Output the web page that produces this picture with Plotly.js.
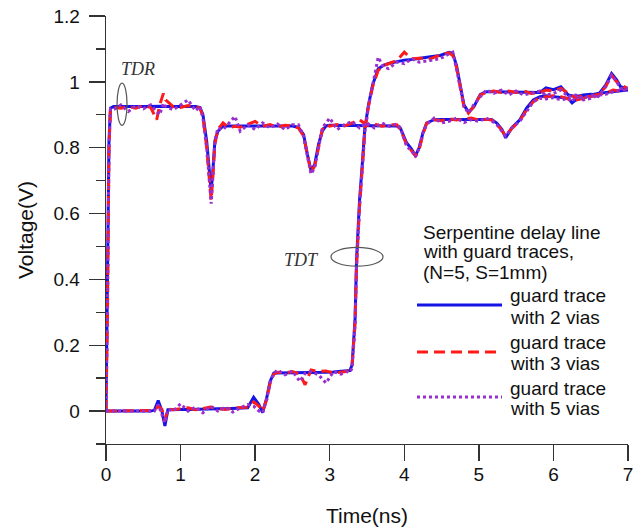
<!DOCTYPE html>
<html>
<head>
<meta charset="utf-8">
<script src="https://cdn.plot.ly/plotly-3.0.1.min.js"></script>
<style>html,body{margin:0;padding:0;background:#fff;}#chart{width:641px;height:527px;}</style>
</head>
<body>
<div id="chart"></div>
<script>
// ---- Data ----
var tdrTime = [
  0, 0.02, 0.04, 0.06, 0.1, 0.2, 0.3, 0.4, 0.5, 0.6,
  0.68, 0.72, 0.77, 0.8, 0.9, 1.0, 1.1, 1.2, 1.26, 1.3,
  1.35, 1.39, 1.41, 1.43, 1.46, 1.5, 1.57, 1.65, 1.73, 1.8,
  1.9, 2.0, 2.1, 2.2, 2.3, 2.4, 2.5, 2.58, 2.65, 2.7,
  2.75, 2.8, 2.85, 2.9, 2.95, 3.0, 3.1, 3.2, 3.3, 3.4,
  3.5, 3.6, 3.7, 3.8, 3.9, 3.95, 4.03, 4.1, 4.15, 4.2,
  4.25, 4.3, 4.4, 4.5, 4.6, 4.7, 4.8, 4.9, 5.0, 5.1,
  5.17, 5.24, 5.31, 5.36, 5.44, 5.55, 5.64, 5.73, 5.82, 5.9,
  6.0, 6.1, 6.2, 6.25, 6.3, 6.4, 6.5, 6.6, 6.7, 6.8,
  6.9, 7.0
];
var tdr2vias = [
  0, 0.35, 0.82, 0.92, 0.925, 0.925, 0.924, 0.925, 0.925, 0.926,
  0.925, 0.925, 0.926, 0.925, 0.925, 0.926, 0.925, 0.925, 0.922, 0.90,
  0.82, 0.71, 0.67, 0.72, 0.82, 0.85, 0.866, 0.866, 0.866, 0.865,
  0.866, 0.866, 0.865, 0.866, 0.866, 0.866, 0.866, 0.862, 0.84, 0.78,
  0.73, 0.75, 0.81, 0.85, 0.866, 0.868, 0.868, 0.868, 0.868, 0.868,
  0.868, 0.868, 0.868, 0.868, 0.866, 0.858, 0.815, 0.795, 0.775, 0.80,
  0.845, 0.875, 0.885, 0.886, 0.886, 0.886, 0.886, 0.886, 0.886, 0.886,
  0.886, 0.875, 0.855, 0.83, 0.86, 0.885, 0.92, 0.945, 0.955, 0.958,
  0.955, 0.952, 0.95, 0.936, 0.945, 0.952, 0.96, 0.965, 0.968, 0.97,
  0.973, 0.975
];
var tdr3vias = [
  0, 0.3, 0.8, 0.915, 0.922, 0.92, 0.925, 0.92, 0.928, 0.922,
  0.885, 0.93, 0.965, 0.945, 0.925, 0.922, 0.928, 0.925, 0.92, 0.895,
  0.80, 0.69, 0.64, 0.70, 0.81, 0.855, 0.875, 0.86, 0.865, 0.862,
  0.87, 0.88, 0.865, 0.87, 0.862, 0.868, 0.866, 0.86, 0.835, 0.775,
  0.725, 0.745, 0.805, 0.855, 0.87, 0.865, 0.87, 0.866, 0.875, 0.885,
  0.868, 0.872, 0.865, 0.87, 0.87, 0.855, 0.81, 0.79, 0.775, 0.795,
  0.84, 0.875, 0.885, 0.882, 0.888, 0.884, 0.886, 0.89, 0.884, 0.886,
  0.884, 0.872, 0.852, 0.835, 0.858, 0.882, 0.915, 0.94, 0.952, 0.955,
  0.958, 0.955, 0.948, 0.94, 0.945, 0.95, 0.958, 0.962, 0.966, 0.975,
  0.972, 0.98
];
var tdr5vias = [
  0, 0.3, 0.8, 0.918, 0.915, 0.93, 0.91, 0.928, 0.918, 0.93,
  0.91, 0.90, 0.935, 0.925, 0.915, 0.93, 0.945, 0.912, 0.925, 0.89,
  0.80, 0.69, 0.63, 0.70, 0.82, 0.86, 0.855, 0.875, 0.895, 0.85,
  0.87, 0.855, 0.875, 0.86, 0.872, 0.855, 0.87, 0.87, 0.835, 0.775,
  0.72, 0.74, 0.80, 0.86, 0.875, 0.89, 0.855, 0.87, 0.88, 0.86,
  0.875, 0.86, 0.875, 0.865, 0.872, 0.86, 0.805, 0.79, 0.772, 0.80,
  0.845, 0.87, 0.89, 0.875, 0.88, 0.89, 0.876, 0.885, 0.88, 0.89,
  0.882, 0.87, 0.85, 0.835, 0.86, 0.88, 0.91, 0.94, 0.95, 0.948,
  0.952, 0.945, 0.95, 0.94, 0.955, 0.945, 0.95, 0.96, 0.962, 0.97,
  0.975, 0.975
];

var tdtTime = [
  0, 0.3, 0.6, 0.65, 0.7, 0.75, 0.79, 0.83, 0.9, 1.0,
  1.1, 1.2, 1.3, 1.4, 1.5, 1.6, 1.7, 1.8, 1.9, 1.98,
  2.05, 2.1, 2.155, 2.2, 2.25, 2.3, 2.4, 2.5, 2.6, 2.67,
  2.75, 2.85, 2.95, 3.05, 3.15, 3.22, 3.27, 3.3, 3.34, 3.36,
  3.4, 3.44, 3.47, 3.52, 3.575, 3.65, 3.72, 3.79, 3.9, 4.0,
  4.1, 4.2, 4.35, 4.48, 4.6, 4.65, 4.7, 4.75, 4.8, 4.86,
  4.93, 5.02, 5.1, 5.2, 5.3, 5.4, 5.5, 5.6, 5.7, 5.82,
  5.9, 6.0, 6.1, 6.2, 6.3, 6.4, 6.5, 6.6, 6.7, 6.78,
  6.85, 6.9, 7.0
];
var tdt2vias = [
  0, 0, 0, 0.003, 0.032, 0.0, -0.045, 0.004, 0.005, 0.005,
  0.005, 0.006, 0.006, 0.006, 0.007, 0.007, 0.008, 0.008, 0.01, 0.042,
  0.02, -0.005, 0.04, 0.09, 0.115, 0.116, 0.116, 0.116, 0.117, 0.117,
  0.117, 0.118, 0.118, 0.119, 0.12, 0.121, 0.123, 0.14, 0.28, 0.46,
  0.64, 0.76, 0.857, 0.93, 0.99, 1.04, 1.05, 1.056, 1.062, 1.066,
  1.068, 1.072, 1.076, 1.08, 1.09, 1.086, 1.05, 0.99, 0.93, 0.908,
  0.923, 0.962, 0.97, 0.97, 0.97, 0.97, 0.97, 0.97, 0.97, 0.968,
  0.982, 0.976, 0.985, 0.96, 0.955, 0.96, 0.962, 0.96, 0.99, 1.025,
  1.005, 0.985, 0.978
];
var tdt3vias = [
  0, 0, 0, 0.002, 0.015, 0.005, -0.03, 0.006, 0.004, 0.006,
  0.01, 0.004, 0.008, 0.012, 0.008, 0.005, 0.009, 0.01, 0.012, 0.028,
  0.015, 0.0, 0.035, 0.085, 0.112, 0.118, 0.116, 0.12, 0.112, 0.08,
  0.125, 0.12, 0.122, 0.115, 0.118, 0.12, 0.125, 0.14, 0.27, 0.44,
  0.62, 0.75, 0.85, 0.925, 0.985, 1.035, 1.05, 1.055, 1.065, 1.09,
  1.07, 1.072, 1.07, 1.082, 1.088, 1.08, 1.045, 0.985, 0.925, 0.905,
  0.925, 0.96, 0.968, 0.972, 0.968, 0.972, 0.968, 0.972, 0.965, 0.968,
  0.975, 0.972, 0.98, 0.965, 0.952, 0.958, 0.955, 0.96, 0.985, 1.02,
  1.0, 0.99, 0.98
];
var tdt5vias = [
  0, 0, 0, 0.0, 0.02, -0.01, -0.035, 0.006, 0.0, 0.022,
  0.0, 0.012, -0.005, 0.015, 0.0, 0.012, -0.003, 0.01, 0.02, 0.015,
  0.0, -0.005, 0.035, 0.085, 0.115, 0.125, 0.11, 0.122, 0.09, 0.115,
  0.12, 0.11, 0.085, 0.12, 0.112, 0.12, 0.118, 0.13, 0.26, 0.44,
  0.62, 0.745, 0.845, 0.925, 0.985, 1.075, 1.045, 1.04, 1.06, 1.055,
  1.07, 1.06, 1.065, 1.07, 1.085, 1.09, 1.04, 0.98, 0.925, 0.905,
  0.93, 0.955, 0.975, 0.965, 0.975, 0.96, 0.972, 0.96, 0.965, 0.972,
  0.96, 0.965, 0.975, 0.955, 0.96, 0.95, 0.96, 0.955, 0.985, 1.02,
  1.0, 0.98, 0.98
];

var seriesNames = ["guard trace with 2 vias", "guard trace with 3 vias", "guard trace with 5 vias"];
var legendTitleLines = ["Serpentine delay line", "with guard traces,", "(N=5, S=1mm)"];
var legendItemLines = [["guard trace", "with 2 vias"], ["guard trace", "with 3 vias"], ["guard trace", "with 5 vias"]];
var xTicks = [0, 1, 2, 3, 4, 5, 6, 7];
var yTicks = [0, 0.2, 0.4, 0.6, 0.8, 1.0, 1.2];
var yTickText = ["0", "0.2", "0.4", "0.6", "0.8", "1", "1.2"];
var yMinorTicks = [-0.1, 0.1, 0.3, 0.5, 0.7, 0.9, 1.1];

// ---- Styles ----
var FONT = "Liberation Sans, Arial, sans-serif";
var styles = [
  {color: "#1414e6", width: 3, dash: "solid"},
  {color: "#ff1a1a", width: 3, dash: "11px,6px"},
  {color: "#9a2fd0", width: 3, dash: "3px,3px"}
];
var tdrSets = [tdr2vias, tdr3vias, tdr5vias];
var tdtSets = [tdt2vias, tdt3vias, tdt5vias];

var traces = [];
for (var i = 0; i < 3; i++) {
  traces.push({x: tdrTime, y: tdrSets[i], type: "scatter", mode: "lines", name: seriesNames[i],
    legendgroup: "s" + i, showlegend: false, line: styles[i], hoverinfo: "x+y"});
  traces.push({x: tdtTime, y: tdtSets[i], type: "scatter", mode: "lines", name: seriesNames[i],
    legendgroup: "s" + i, showlegend: false, line: styles[i], hoverinfo: "x+y"});
}

// ---- Manual legend (pixel layout converted to paper coords) ----
var M = {l: 106, r: 13, t: 16, b: 83};
var W = 641, H = 527;
var pw = W - M.l - M.r, ph = H - M.t - M.b;
function px(x) { return (x - M.l) / pw; }
function py(y) { return (H - M.b - y) / ph; }

var annotations = [];
var shapes = [];
var titleY = [232, 252, 272];
legendTitleLines.forEach(function (t, k) {
  annotations.push({xref: "paper", yref: "paper", x: px(421), y: py(titleY[k]), text: t, showarrow: false,
    xanchor: "left", yanchor: "middle", font: {family: FONT, size: 19, color: "#111"}});
});
var itemLineY = [305, 352, 397];
var itemTextY = [[295, 317], [342, 363], [388, 408]];
for (var k = 0; k < 3; k++) {
  shapes.push({type: "line", xref: "paper", yref: "paper", x0: px(417), x1: px(502), y0: py(itemLineY[k]), y1: py(itemLineY[k]),
    line: {color: styles[k].color, width: 3, dash: styles[k].dash}});
  for (var j = 0; j < 2; j++) {
    annotations.push({xref: "paper", yref: "paper", x: px(508), y: py(itemTextY[k][j]), text: legendItemLines[k][j], showarrow: false,
      xanchor: "left", yanchor: "middle", font: {family: FONT, size: 19, color: "#111"}});
  }
}

// TDR / TDT labels and ellipses
annotations.push({xref: "x", yref: "y", x: 0.43, y: 1.039, text: "<i>TDR</i>", showarrow: false,
  xanchor: "center", yanchor: "middle", font: {family: "Liberation Serif, Times New Roman, serif", size: 18, color: "#333"}});
annotations.push({xref: "x", yref: "y", x: 2.615, y: 0.458, text: "<i>TDT</i>", showarrow: false,
  xanchor: "center", yanchor: "middle", font: {family: "Liberation Serif, Times New Roman, serif", size: 18, color: "#333"}});
shapes.push({type: "circle", xref: "x", yref: "y", x0: 0.148, x1: 0.282, y0: 0.868, y1: 0.996,
  line: {color: "#555", width: 1.2}});
shapes.push({type: "circle", xref: "x", yref: "y", x0: 3.017, x1: 3.715, y0: 0.440, y1: 0.497,
  line: {color: "#555", width: 1.2}});

var layout = {
  width: W, height: H,
  margin: M,
  paper_bgcolor: "#ffffff", plot_bgcolor: "#ffffff",
  showlegend: false,
  font: {family: FONT, color: "#111"},
  xaxis: {
    range: [0, 7], tickvals: xTicks, ticks: "outside", ticklen: 16, tickwidth: 1.3, tickcolor: "#333",
    showline: true, linecolor: "#333", linewidth: 1.3, showgrid: false, zeroline: false,
    ticklabelstandoff: -3,
    tickfont: {family: FONT, size: 19, color: "#111"},
    title: {text: "Time(ns)", font: {family: FONT, size: 21, color: "#111"}, standoff: 24}
  },
  yaxis: {
    range: [-0.1, 1.2], tickvals: yTicks, ticktext: yTickText, ticks: "outside", ticklen: 16, tickwidth: 1.3, tickcolor: "#333",
    minor: {tickvals: yMinorTicks, ticks: "outside", ticklen: 9, tickwidth: 1.3, tickcolor: "#333", showgrid: false},
    showline: true, linecolor: "#333", linewidth: 1.3, showgrid: false, zeroline: false,
    ticklabelstandoff: 5,
    tickfont: {family: FONT, size: 19, color: "#111"},
    title: {text: "Voltage(V)", font: {family: FONT, size: 21, color: "#111"}, standoff: 14}
  },
  annotations: annotations,
  shapes: shapes
};

Plotly.newPlot("chart", traces, layout, {displayModeBar: false, staticPlot: true});
</script>
</body>
</html>
